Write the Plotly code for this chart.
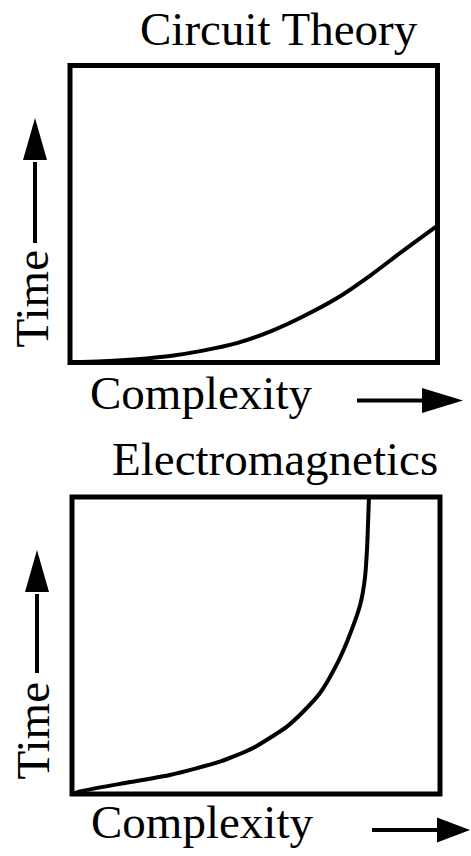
import plotly.graph_objects as go

# ---- data (normalised complexity vs time) ----
circuit_x = [0.0, 0.09, 0.182, 0.272, 0.362, 0.454, 0.544, 0.634, 0.727, 0.816, 0.906, 1.0]
circuit_y = [0.0, 0.004, 0.011, 0.022, 0.040, 0.065, 0.104, 0.155, 0.217, 0.292, 0.376, 0.461]

em_x = [0.0, 0.022, 0.130, 0.266, 0.402, 0.492, 0.584, 0.628, 0.674, 0.718, 0.749,
        0.783, 0.796, 0.802, 0.804, 0.807]
em_y = [0.0, 0.009, 0.034, 0.064, 0.109, 0.155, 0.227, 0.277, 0.340, 0.433, 0.518,
        0.636, 0.727, 0.832, 0.896, 1.0]

titles = ["Circuit Theory", "Electromagnetics"]
x_label = "Complexity"
y_label = "Time"

W, H = 471, 856
FONT = "Liberation Serif, Times New Roman, serif"


def px(x, y):
    """page pixel -> paper coordinate"""
    return x / W, 1 - y / H


fig = go.Figure()
fig.add_trace(go.Scatter(x=circuit_x, y=circuit_y, mode="lines",
                         line=dict(color="black", width=4, shape="spline", smoothing=0.8),
                         xaxis="x", yaxis="y", showlegend=False, hoverinfo="skip"))
fig.add_trace(go.Scatter(x=em_x, y=em_y, mode="lines",
                         line=dict(color="black", width=4, shape="spline", smoothing=0.6),
                         xaxis="x2", yaxis="y2", showlegend=False, hoverinfo="skip"))

ax_common = dict(range=[0, 1], showgrid=False, zeroline=False, showticklabels=False,
                 ticks="", showline=False, fixedrange=True)

panels = [
    # (x0px, x1px, ytop_px, ybot_px) in page pixels
    (70, 437.5, 65.5, 362.5),
    (72, 440, 497, 794),
]

layout_axes = {}
for i, (x0, x1, yt, yb) in enumerate(panels):
    sfx = "" if i == 0 else str(i + 1)
    (dx0, dyb), (dx1, dyt) = px(x0, yb), px(x1, yt)
    layout_axes["xaxis" + sfx] = dict(ax_common, domain=[dx0, dx1], anchor="y" + sfx)
    layout_axes["yaxis" + sfx] = dict(ax_common, domain=[dyb, dyt], anchor="x" + sfx)

shapes = []
annotations = []

# panel boxes
for i in range(2):
    sfx = "" if i == 0 else str(i + 1)
    shapes.append(dict(type="rect", xref="x" + sfx + " domain", yref="y" + sfx + " domain",
                       x0=0, x1=1, y0=0, y1=1, line=dict(color="black", width=5),
                       fillcolor="rgba(0,0,0,0)", layer="above"))

# arrows (decoration, in page-pixel based paper coordinates)
arrow_defs = [
    # vertical: (x, y_start, y_headbase, y_tip, half_width)
    ("v", 35, 243, 160, 118, 12),
    ("v", 37, 673, 592, 550, 12),
    # horizontal: (y, x_start, x_headbase, x_tip, half_height)
    ("h", 400.5, 357, 422, 463, 12.5),
    ("h", 830, 372, 437, 470, 12.5),
]
for kind, c, s, b, t, hw in arrow_defs:
    if kind == "v":
        xa, ya = px(c, s)
        xb, yb = px(c, b + 2)
        p1 = px(c - hw, b); p2 = px(c + hw, b); p3 = px(c, t)
    else:
        xa, ya = px(s, c)
        xb, yb = px(b + 2, c)
        p1 = px(b, c - hw); p2 = px(b, c + hw); p3 = px(t, c)
    shapes.append(dict(type="line", xref="paper", yref="paper", x0=xa, y0=ya, x1=xb, y1=yb,
                       line=dict(color="black", width=4)))
    path = f"M {p1[0]},{p1[1]} L {p2[0]},{p2[1]} L {p3[0]},{p3[1]} Z"
    shapes.append(dict(type="path", xref="paper", yref="paper", path=path,
                       fillcolor="black", line=dict(color="black", width=0)))

# text
text_defs = [
    (titles[0], 279, 29, 0),
    (titles[1], 275, 459, 0),
    (x_label, 200.5, 393, 0),
    (x_label, 201.5, 822, 0),
    (y_label, 31, 298.5, -90),
    (y_label, 32, 730.5, -90),
]
for txt, x, y, ang in text_defs:
    xp, yp = px(x, y)
    annotations.append(dict(text=txt, x=xp, y=yp, xref="paper", yref="paper",
                            xanchor="center", yanchor="middle", showarrow=False,
                            textangle=ang, font=dict(family=FONT, size=47, color="black")))

fig.update_layout(
    width=W, height=H, autosize=False,
    margin=dict(l=0, r=0, t=0, b=0, pad=0),
    paper_bgcolor="white", plot_bgcolor="white",
    shapes=shapes, annotations=annotations,
    showlegend=False,
    **layout_axes,
)

fig.write_html("out.html", config={"displayModeBar": False},
               post_script="document.body.style.margin='0';")
